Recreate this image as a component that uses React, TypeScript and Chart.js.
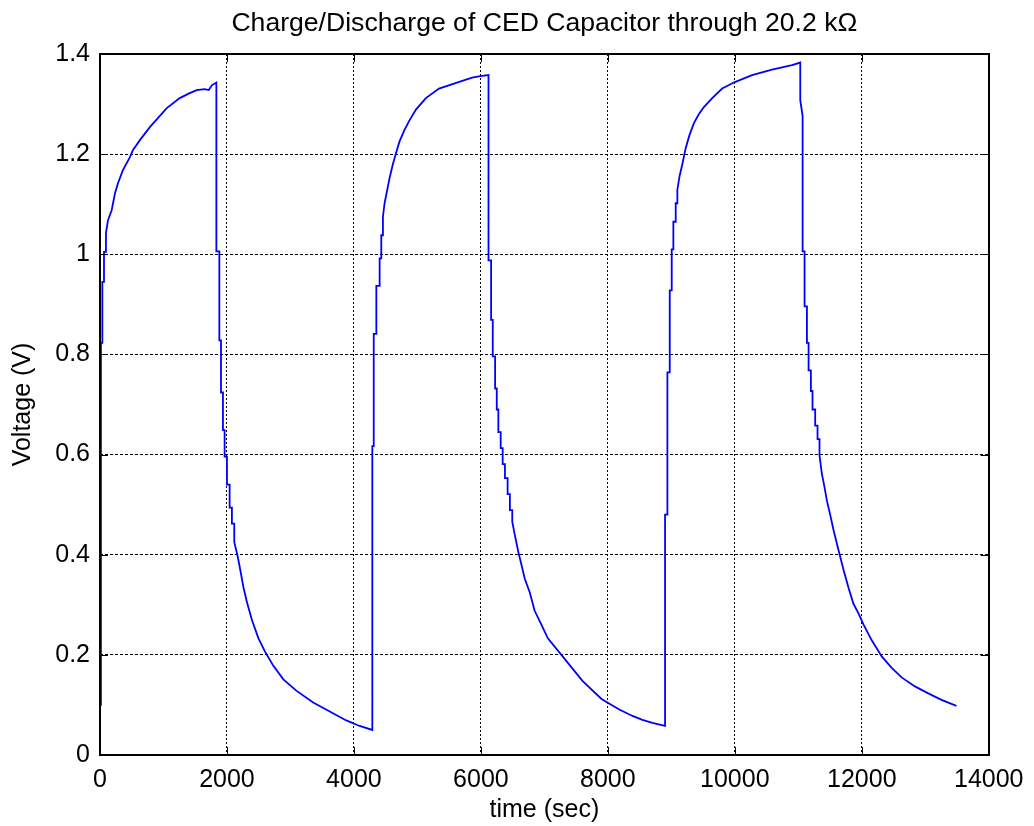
import React, { useEffect, useRef } from "react";
import { Chart, registerables } from "chart.js";

Chart.register(...registerables);

// ---- Data (time in seconds, voltage in volts) ----
const charge1Time = [0, 15, 37, 37, 63, 63, 94, 94, 126, 184, 236, 283, 361, 471, 518, 628, 785, 1052, 1256, 1413, 1523, 1650, 1713, 1765, 1833];
const charge1Volt = [0.10, 0.823, 0.823, 0.945, 0.945, 1.005, 1.005, 1.043, 1.068, 1.088, 1.122, 1.142, 1.168, 1.194, 1.208, 1.228, 1.254, 1.292, 1.312, 1.322, 1.328, 1.330, 1.328, 1.338, 1.343];

const discharge1Time = [1833, 1880, 1880, 1906, 1906, 1937, 1937, 1963, 1963, 2000, 2000, 2042, 2042, 2078, 2078, 2115, 2115, 2167, 2209, 2261, 2313, 2392, 2496, 2601, 2731, 2888, 3097, 3358, 3619, 3880, 4089, 4290];
const discharge1Volt = [1.006, 1.006, 0.828, 0.828, 0.724, 0.724, 0.649, 0.649, 0.596, 0.596, 0.540, 0.540, 0.494, 0.494, 0.462, 0.462, 0.425, 0.398, 0.370, 0.334, 0.306, 0.270, 0.233, 0.206, 0.178, 0.151, 0.128, 0.105, 0.087, 0.069, 0.058, 0.050];

const charge2Time = [4290, 4312, 4312, 4353, 4353, 4405, 4405, 4431, 4431, 4457, 4457, 4483, 4519, 4561, 4613, 4665, 4717, 4795, 4873, 4977, 5133, 5340, 5600, 5860, 5990, 6120];
const charge2Volt = [0.617, 0.617, 0.841, 0.841, 0.937, 0.937, 0.992, 0.992, 1.038, 1.038, 1.075, 1.102, 1.125, 1.152, 1.180, 1.203, 1.225, 1.248, 1.267, 1.289, 1.312, 1.331, 1.342, 1.353, 1.356, 1.358];

const discharge2Time = [6120, 6161, 6161, 6187, 6187, 6224, 6224, 6250, 6250, 6275, 6275, 6312, 6312, 6343, 6343, 6379, 6379, 6421, 6421, 6457, 6457, 6494, 6494, 6535, 6587, 6639, 6691, 6769, 6847, 6951, 7055, 7300, 7600, 7900, 8179, 8388, 8545, 8702, 8901];
const discharge2Volt = [0.988, 0.988, 0.869, 0.869, 0.796, 0.796, 0.732, 0.732, 0.690, 0.690, 0.645, 0.645, 0.613, 0.613, 0.581, 0.581, 0.553, 0.553, 0.521, 0.521, 0.489, 0.489, 0.466, 0.439, 0.407, 0.380, 0.352, 0.325, 0.288, 0.261, 0.233, 0.195, 0.148, 0.112, 0.091, 0.078, 0.070, 0.064, 0.058];

const charge3Time = [8901, 8938, 8938, 8975, 8975, 9006, 9006, 9032, 9032, 9069, 9069, 9095, 9095, 9131, 9173, 9226, 9288, 9356, 9435, 9513, 9644, 9801, 10000, 10272, 10586, 10900, 11031];
const charge3Volt = [0.480, 0.480, 0.764, 0.764, 0.928, 0.928, 1.010, 1.010, 1.065, 1.065, 1.102, 1.102, 1.129, 1.157, 1.180, 1.212, 1.239, 1.262, 1.280, 1.294, 1.312, 1.331, 1.344, 1.358, 1.369, 1.378, 1.383];

const discharge3Time = [11031, 11068, 11068, 11099, 11099, 11136, 11136, 11162, 11162, 11198, 11198, 11224, 11224, 11266, 11266, 11303, 11303, 11334, 11334, 11371, 11413, 11450, 11502, 11554, 11620, 11712, 11791, 11869, 11948, 12026, 12157, 12314, 12471, 12628, 12837, 13047, 13256, 13491];
const discharge3Volt = [1.308, 1.276, 1.006, 1.006, 0.896, 0.896, 0.823, 0.823, 0.768, 0.768, 0.727, 0.727, 0.690, 0.690, 0.658, 0.658, 0.631, 0.631, 0.599, 0.562, 0.535, 0.508, 0.480, 0.450, 0.416, 0.370, 0.334, 0.302, 0.283, 0.261, 0.229, 0.197, 0.174, 0.155, 0.137, 0.123, 0.110, 0.098];

const xTickValues = [0, 2000, 4000, 6000, 8000, 10000, 12000, 14000];
const xTickLabels = ["0", "2000", "4000", "6000", "8000", "10000", "12000", "14000"];
const yTickValues = [0, 0.2, 0.4, 0.6, 0.8, 1.0, 1.2, 1.4];
const yTickLabels = ["0", "0.2", "0.4", "0.6", "0.8", "1", "1.2", "1.4"];

const titleText = "Charge/Discharge of CED Capacitor through 20.2 kΩ";
const xTitle = "time (sec)";
const yTitle = "Voltage (V)";

const allTime = [
  ...charge1Time, ...discharge1Time, ...charge2Time,
  ...discharge2Time, ...charge3Time, ...discharge3Time,
];
const allVolt = [
  ...charge1Volt, ...discharge1Volt, ...charge2Volt,
  ...discharge2Volt, ...charge3Volt, ...discharge3Volt,
];

const FONT = "'Liberation Sans', Arial, Helvetica, sans-serif";

const boxPlugin = {
  id: "matlabBox",
  afterDatasetsDraw(chart: any) {
    const { ctx, chartArea, scales } = chart;
    const { left, right, top, bottom } = chartArea;
    const tl = 8;
    ctx.save();
    ctx.strokeStyle = "#000";
    ctx.lineWidth = 1;
    ctx.setLineDash([]);
    ctx.beginPath();
    scales.x.ticks.forEach((t: any) => {
      const px = Math.round(scales.x.getPixelForValue(t.value)) + 0.5;
      ctx.moveTo(px, bottom);
      ctx.lineTo(px, bottom - tl);
      ctx.moveTo(px, top);
      ctx.lineTo(px, top + tl);
    });
    scales.y.ticks.forEach((t: any) => {
      const py = Math.round(scales.y.getPixelForValue(t.value)) + 0.5;
      ctx.moveTo(left, py);
      ctx.lineTo(left + tl, py);
      ctx.moveTo(right, py);
      ctx.lineTo(right - tl, py);
    });
    ctx.stroke();
    ctx.lineWidth = 2;
    ctx.strokeRect(Math.round(left), Math.round(top), Math.round(right - left), Math.round(bottom - top));
    ctx.restore();
  },
};

export default function App() {
  const canvasRef = useRef<HTMLCanvasElement | null>(null);

  useEffect(() => {
    if (!canvasRef.current) return;
    const points = allTime.map((t, i) => ({ x: t, y: allVolt[i] }));
    const chart = new Chart(canvasRef.current, {
      type: "line",
      data: {
        datasets: [
          {
            data: points,
            borderColor: "#0000ff",
            borderWidth: 1.8,
            pointRadius: 0,
            fill: false,
            tension: 0,
          },
        ],
      },
      options: {
        responsive: false,
        animation: false,
        events: [],
        layout: { padding: { left: 0, right: 42, top: 0, bottom: 0 } },
        plugins: {
          legend: { display: false },
          tooltip: { enabled: false },
          title: {
            display: true,
            fullSize: false,
            text: titleText,
            color: "#000",
            font: { family: FONT, size: 26.6, weight: "normal" },
            padding: { top: 8, bottom: 14.1 },
          },
        },
        scales: {
          x: {
            type: "linear",
            min: 0,
            max: 14000,
            afterBuildTicks: (scale: any) => {
              scale.ticks = xTickValues.map((v) => ({ value: v }));
            },
            afterFit: (scale: any) => {
              scale.height = 71;
            },
            ticks: {
              color: "#000",
              font: { family: FONT, size: 25 },
              padding: 10.5,
              maxRotation: 0,
              autoSkip: false,
              callback: (_v: any, i: number) => xTickLabels[i],
            },
            grid: { color: "#000", lineWidth: 1, drawTicks: false },
            border: { display: false, dash: [2, 2] },
            title: {
              display: true,
              text: xTitle,
              color: "#000",
              font: { family: FONT, size: 25 },
              padding: { top: 0, bottom: 1 },
            },
          },
          y: {
            type: "linear",
            min: 0,
            max: 1.4,
            afterBuildTicks: (scale: any) => {
              scale.ticks = yTickValues.map((v) => ({ value: v }));
            },
            afterFit: (scale: any) => {
              scale.width = 100;
            },
            ticks: {
              color: "#000",
              font: { family: FONT, size: 25 },
              padding: 10,
              autoSkip: false,
              callback: (_v: any, i: number) => yTickLabels[i],
            },
            grid: { color: "#000", lineWidth: 1, drawTicks: false },
            border: { display: false, dash: [3, 2] },
            title: {
              display: true,
              text: yTitle,
              color: "#000",
              font: { family: FONT, size: 25 },
              padding: { top: 8, bottom: 0 },
            },
          },
        },
      },
      plugins: [boxPlugin],
    });
    return () => chart.destroy();
  }, []);

  return (
    <div style={{ position: "absolute", left: 0, top: 0, width: 1034, height: 826, background: "#fff" }}>
      <canvas ref={canvasRef} width={1034} height={826} style={{ display: "block" }} />
    </div>
  );
}
